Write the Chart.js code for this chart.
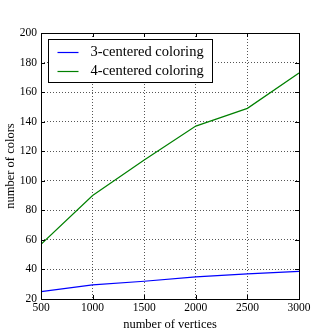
<!DOCTYPE html>
<html>
<head>
<meta charset="utf-8">
<script src="https://cdn.jsdelivr.net/npm/chart.js@4/dist/chart.umd.min.js"></script>
<style>
  html, body { margin: 0; padding: 0; background: #fff; }
  #wrap { width: 332px; height: 332px; }
</style>
</head>
<body>
<div id="wrap"><canvas id="myChart" width="332" height="332"></canvas></div>
<script>
// data
var vertices = [500, 1000, 1500, 2000, 2500, 3000];
var colors3 = [25, 29.5, 32, 35, 37, 38.7];
var colors4 = [57, 90, 114, 137, 149, 173];
var seriesNames = ["3-centered coloring", "4-centered coloring"];
var lineColors = ["#0000ff", "#008000"];
var xTicks = [500, 1000, 1500, 2000, 2500, 3000];
var yTicks = [20, 40, 60, 80, 100, 120, 140, 160, 180, 200];

var serif = "'Liberation Serif', 'DejaVu Serif', serif";

function toPoints(xs, ys) {
  return xs.map(function (x, i) { return { x: x, y: ys[i] }; });
}

// frame box + inward ticks on all four sides, like the old matplotlib style
var framePlugin = {
  id: "frame",
  afterDraw: function (chart) {
    var ctx = chart.ctx, a = chart.chartArea;
    var xs = chart.scales.x, ys = chart.scales.y;
    ctx.save();
    ctx.strokeStyle = "#000";
    ctx.lineWidth = 1;
    ctx.setLineDash([]);
    ctx.beginPath();
    xTicks.forEach(function (t) {
      var px = Math.round(xs.getPixelForValue(t)) + 0.5;
      ctx.moveTo(px, a.bottom); ctx.lineTo(px, a.bottom - 4);
      ctx.moveTo(px, a.top); ctx.lineTo(px, a.top + 4);
    });
    yTicks.forEach(function (t) {
      var py = Math.round(ys.getPixelForValue(t)) + 0.5;
      ctx.moveTo(a.left, py); ctx.lineTo(a.left + 4, py);
      ctx.moveTo(a.right, py); ctx.lineTo(a.right - 4, py);
    });
    ctx.stroke();
    ctx.strokeRect(Math.round(a.left) + 0.5, Math.round(a.top) + 0.5,
      Math.round(a.right - a.left), Math.round(a.bottom - a.top));
    ctx.restore();
  }
};

// legend box in the upper left of the plot
var legendPlugin = {
  id: "boxLegend",
  afterDraw: function (chart) {
    var ctx = chart.ctx, a = chart.chartArea;
    var bx = a.left + 7.5, by = a.top + 6.5, bw = 164, bh = 43;
    ctx.save();
    ctx.setLineDash([]);
    ctx.fillStyle = "#fff";
    ctx.fillRect(bx, by, bw, bh);
    ctx.strokeStyle = "#000";
    ctx.lineWidth = 1;
    ctx.strokeRect(bx, by, bw, bh);
    ctx.font = "14.5px " + serif;
    ctx.textBaseline = "middle";
    seriesNames.forEach(function (name, i) {
      var cy = Math.round(by + 12 + i * 19) + 0.5;
      ctx.strokeStyle = lineColors[i];
      ctx.lineWidth = 1.2;
      ctx.beginPath();
      ctx.moveTo(bx + 9, cy);
      ctx.lineTo(bx + 30, cy);
      ctx.stroke();
      ctx.fillStyle = "#000";
      ctx.fillText(name, bx + 42, cy);
    });
    ctx.restore();
  }
};

new Chart("myChart", {
  type: "line",
  data: {
    datasets: [
      {
        label: seriesNames[0],
        data: toPoints(vertices, colors3),
        borderColor: lineColors[0],
        borderWidth: 1.2,
        pointRadius: 0,
        tension: 0,
      },
      {
        label: seriesNames[1],
        data: toPoints(vertices, colors4),
        borderColor: lineColors[1],
        borderWidth: 1.2,
        pointRadius: 0,
        tension: 0,
      },
    ],
  },
  options: {
    responsive: false,
    animation: false,
    layout: { padding: { left: 0, right: 33, top: 33, bottom: 0 } },
    plugins: { legend: { display: false }, tooltip: { enabled: false } },
    scales: {
      x: {
        type: "linear",
        min: 500,
        max: 3000,
        afterBuildTicks: function (s) { s.ticks = xTicks.map(function (v) { return { value: v }; }); },
        afterFit: function (s) { s.height = 33; },
        ticks: {
          color: "#000", font: { family: serif, size: 11.5 }, padding: 2, maxRotation: 0,
          callback: function (v) { return String(v); },
        },
        grid: { color: "#555", drawTicks: false, lineWidth: 1 },
        border: { display: false, dash: [1, 2] },
        title: { display: true, text: "number of vertices", color: "#000", font: { family: serif, size: 12.5 }, padding: { top: 1, bottom: 0 } },
      },
      y: {
        min: 20,
        max: 200,
        afterBuildTicks: function (s) { s.ticks = yTicks.map(function (v) { return { value: v }; }); },
        afterFit: function (s) { s.width = 41; },
        ticks: {
          color: "#000", font: { family: serif, size: 11.5 }, padding: 4,
          callback: function (v) { return String(v); },
        },
        grid: { color: "#555", drawTicks: false, lineWidth: 1 },
        border: { display: false, dash: [1, 2] },
        title: { display: true, text: "number of colors", color: "#000", font: { family: serif, size: 12.5 }, padding: { top: 3, bottom: 0 } },
      },
    },
  },
  plugins: [framePlugin, legendPlugin],
});
</script>
</body>
</html>
